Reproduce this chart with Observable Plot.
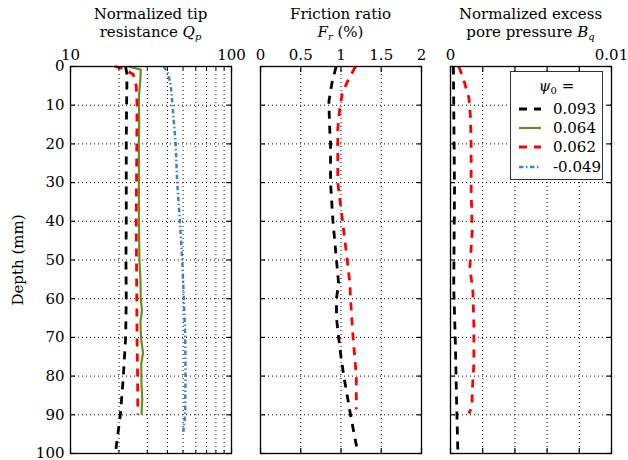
<!DOCTYPE html>
<html><head><meta charset="utf-8">
<script src="https://cdn.jsdelivr.net/npm/d3@7"></script>
<script src="https://cdn.jsdelivr.net/npm/@observablehq/plot@0.6"></script>
<style>
body{margin:0;background:#fff;}
#root{position:relative;width:628px;height:460px;font-family:"DejaVu Serif",serif;font-size:15px;color:#000;overflow:hidden;}
.panel{position:absolute;top:0;}
.panel svg{overflow:visible;}
.title{position:absolute;top:5px;width:200px;text-align:center;line-height:18px;white-space:nowrap;}
.title sub{font-size:10px;vertical-align:-3px;line-height:0;}
#ylab{position:absolute;left:18px;top:260px;transform:translate(-50%,-50%) rotate(-90deg);white-space:nowrap;}
#legend{position:absolute;left:510px;top:71px;width:93px;height:109px;box-sizing:border-box;border:1px solid #333;background:#fff;}
#legend .lt{position:absolute;left:0;width:100%;top:5px;text-align:center;line-height:18px;}
#legend .lt sub{font-size:10px;vertical-align:-3px;line-height:0;}
#legend .row{position:absolute;left:0;width:100%;height:18px;}
#legend .row svg{position:absolute;left:8px;top:0;}
#legend .row span{position:absolute;left:42px;top:0;line-height:18px;}
</style></head><body><div id="root"></div>
<script>
// ---- data ----
const depthTicks = [0, 10, 20, 30, 40, 50, 60, 70, 80, 90, 100];
const qpTicks = [10, 100];
const qpMinor = [20, 30, 40, 50, 60, 70, 80, 90];
const frTicks = [0, 0.5, 1, 1.5, 2];
const bqTicks = [0, 0.01];
const bqMinor = [0.002, 0.004, 0.006, 0.008];

const seriesNames = ["0.093", "0.064", "0.062", "-0.049"];

// Normalized tip resistance Qp
const qpDepthA = [0, 2, 5, 10, 20, 30, 40, 50, 60, 70, 80, 90, 100];
const qpA = [22.0, 22.4, 22.4, 22.3, 22.2, 22.2, 22.2, 22.1, 22.2, 22.0, 21.3, 20.4, 19.0];
const qpDepthB = [0, 0.8, 3, 8, 15, 20, 30, 40, 50, 55, 60, 63, 66, 70, 74, 77, 82, 86, 90];
const qpB = [23, 27.3, 27.2, 26.6, 26.7, 26.6, 26.6, 26.6, 26.8, 27.2, 27.3, 27.8, 27.2, 27.4, 28.2, 27.5, 27.6, 27.9, 27.6];
const qpDepthC = [0, 0.5, 2, 5, 10, 20, 30, 40, 50, 60, 70, 80, 90];
const qpC = [18.8, 21, 24.5, 25.6, 25.9, 25.8, 25.7, 25.6, 25.7, 25.8, 25.9, 26.1, 26.2];
const qpDepthD = [0, 2, 5, 10, 20, 30, 40, 50, 60, 70, 80, 90, 95];
const qpD = [38, 40.5, 42, 43, 45, 46, 47.8, 49.4, 50.6, 51.6, 51.8, 51.5, 50];

// Friction ratio Fr (%)
const frDepthA = [0, 4, 9, 15, 20, 30, 40, 50, 56, 60, 65, 70, 75, 80, 85, 90, 100];
const frA = [0.94, 0.89, 0.85, 0.857, 0.87, 0.87, 0.90, 0.944, 0.97, 0.944, 0.944, 0.97, 1.0, 1.035, 1.077, 1.118, 1.21];
const frDepthC = [0, 4, 7, 11, 16, 20, 30, 35, 40, 50, 56, 60, 70, 80, 88.6];
const frC = [1.18, 1.077, 1.015, 0.985, 0.96, 0.96, 0.96, 0.99, 1.02, 1.077, 1.11, 1.118, 1.15, 1.19, 1.19];

// Normalized excess pore pressure Bq
const bqDepthA = [0, 10, 32, 57, 71, 85, 100];
const bqA = [0.00018, 0.0002, 0.00025, 0.0002, 0.0003, 0.00037, 0.00046];
const bqDepthC = [0, 3.6, 8, 13, 20, 32, 42.6, 52, 58, 66.6, 77, 84, 88, 89.7];
const bqC = [0.00052, 0.00083, 0.00114, 0.00124, 0.00128, 0.00128, 0.00135, 0.0012, 0.00139, 0.00145, 0.00145, 0.00135, 0.00133, 0.00114];

// ---- styles ----
const styles = {
  "0.093": {stroke: "#000000", strokeWidth: 2.8, strokeDasharray: "8,7"},
  "0.064": {stroke: "#6b8e23", strokeWidth: 2.2, strokeDasharray: null},
  "0.062": {stroke: "#ff0000", strokeWidth: 2.8, strokeDasharray: "8,7"},
  "-0.049": {stroke: "#4682b4", strokeWidth: 2.5, strokeDasharray: "4.5,2.5,1.5,2.5"}
};

const tbl = (vals, depths) => vals.map((v, i) => ({v, d: depths[i]}));
const lineMark = (vals, depths, name) => Plot.line(tbl(vals, depths), {x: "v", y: "d", ...styles[name], strokeLinecap: "butt", strokeLinejoin: "round"});

const gridStyle = {stroke: "#000", strokeOpacity: 1, strokeWidth: 1, strokeDasharray: "1,3"};
const H = 460, TOP = 66, BOT = 7;

function panel({width, ml, mr, x, labelTicks, majorTicks, minorTicks, gridTicks, lines, yLabels}) {
  const marks = [
    Plot.gridX(gridTicks, gridStyle),
    Plot.gridY(depthTicks.slice(1, -1), gridStyle),
    ...lines,
    Plot.axisX({anchor: "top", ticks: labelTicks, tickSize: 0, tickPadding: 7, tickFormat: d => String(d), fontSize: 15, label: null}),
    // inward tick marks
    Plot.axisX({anchor: "top", ticks: majorTicks, tickSize: 5, dy: 5, tickFormat: () => "", label: null, strokeWidth: 1.2}),
    Plot.axisX({anchor: "bottom", ticks: majorTicks, tickSize: 5, dy: -5, tickFormat: () => "", label: null, strokeWidth: 1.2}),
    Plot.axisY({anchor: "left", ticks: depthTicks, tickSize: 5, dx: 5, tickFormat: () => "", label: null, strokeWidth: 1.2}),
    Plot.axisY({anchor: "right", ticks: depthTicks, tickSize: 5, dx: -5, tickFormat: () => "", label: null, strokeWidth: 1.2}),
    Plot.frame({stroke: "#000", strokeWidth: 1.3})
  ];
  if (minorTicks.length) {
    marks.push(Plot.axisX({anchor: "top", ticks: minorTicks, tickSize: 3, dy: 3, tickFormat: () => "", label: null}));
    marks.push(Plot.axisX({anchor: "bottom", ticks: minorTicks, tickSize: 3, dy: -3, tickFormat: () => "", label: null}));
  }
  if (yLabels) marks.push(Plot.axisY({anchor: "left", ticks: depthTicks, tickSize: 0, tickPadding: 6, tickFormat: d => String(d), label: null, fontSize: 15}));
  return Plot.plot({
    width, height: H, marginLeft: ml, marginRight: mr, marginTop: TOP, marginBottom: BOT,
    x: {...x, axis: null},
    y: {domain: [0, 100], reverse: true, axis: null},
    style: {fontFamily: "DejaVu Serif", fontSize: "15px", background: "transparent", color: "#000"},
    marks
  });
}

const root = document.getElementById("root");
function place(el, left) { const d = document.createElement("div"); d.className = "panel"; d.style.left = left + "px"; d.appendChild(el); root.appendChild(d); }

place(panel({width: 245, ml: 70, mr: 14, x: {type: "log", domain: [10, 100]},
  labelTicks: qpTicks, majorTicks: qpTicks, minorTicks: qpMinor, gridTicks: qpMinor, yLabels: true,
  lines: [lineMark(qpD, qpDepthD, "-0.049"), lineMark(qpB, qpDepthB, "0.064"), lineMark(qpC, qpDepthC, "0.062"), lineMark(qpA, qpDepthA, "0.093")]}), 0);
place(panel({width: 190, ml: 15, mr: 14, x: {type: "linear", domain: [0, 2]},
  labelTicks: frTicks, majorTicks: frTicks, minorTicks: [], gridTicks: frTicks.slice(1, -1),
  lines: [lineMark(frC, frDepthC, "0.062"), lineMark(frA, frDepthA, "0.093")]}), 245);
place(panel({width: 193, ml: 15, mr: 17, x: {type: "linear", domain: [0, 0.01]},
  labelTicks: bqTicks, majorTicks: bqTicks.concat(bqMinor), minorTicks: [], gridTicks: bqMinor,
  lines: [lineMark(bqC, bqDepthC, "0.062"), lineMark(bqA, bqDepthA, "0.093")]}), 435);

// titles
function title(html, cx) { const d = document.createElement("div"); d.className = "title"; d.style.left = (cx - 100) + "px"; d.innerHTML = html; root.appendChild(d); }
title('Normalized tip<br>resistance <i>Q</i><sub><i>p</i></sub>', 150.5);
title('Friction ratio<br><i>F</i><sub><i>r</i></sub> (%)', 340.5);
title('Normalized excess<br>pore pressure <i>B</i><sub><i>q</i></sub>', 530.5);

const yl = document.createElement("div"); yl.id = "ylab"; yl.textContent = "Depth (mm)"; root.appendChild(yl);

// legend
const lg = document.createElement("div"); lg.id = "legend";
lg.innerHTML = '<div class="lt"><i>ψ</i><sub>0</sub> =</div>';
const rowTops = [28, 47, 66, 86];
seriesNames.forEach((name, i) => {
  const s = styles[name];
  const r = document.createElement("div"); r.className = "row"; r.style.top = rowTops[i] + "px";
  r.innerHTML = `<svg width="22" height="18"><line x1="0" x2="22" y1="9" y2="9" stroke="${s.stroke}" stroke-width="${s.strokeWidth}" ${s.strokeDasharray ? `stroke-dasharray="${s.strokeDasharray}"` : ""}/></svg><span>${name}</span>`;
  lg.appendChild(r);
});
root.appendChild(lg);
</script>
</body></html>
